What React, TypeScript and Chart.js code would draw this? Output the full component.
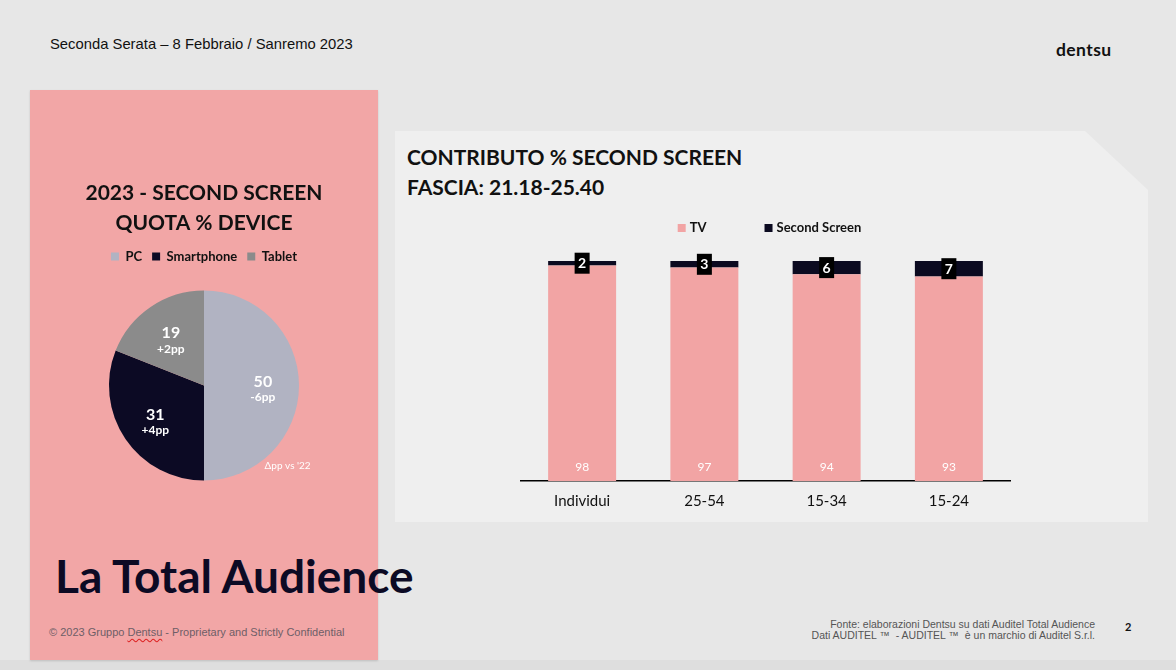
import React, { useEffect, useRef } from 'react';
import { Chart, registerables } from 'chart.js';
Chart.register(...registerables);

const pieLabels = ['PC', 'Smartphone', 'Tablet'];
const pieValues = [50, 31, 19];
const pieDeltas = ['-6pp', '+4pp', '+2pp'];
const pieColors = ['#b1b3c2', '#0c0a24', '#8b8b8b'];
const pieTitle = ['2023 - SECOND SCREEN', 'QUOTA % DEVICE'];
const pieNote = "Δpp vs '22";

const barCategories = ['Individui', '25-54', '15-34', '15-24'];
const seriesNames = ['TV', 'Second Screen'];
const tvValues = [98, 97, 94, 93];
const secondScreenValues = [2, 3, 6, 7];
const barColors = ['#f2a4a4', '#0b0a20'];

const CAL = 'Lato, "Open Sans", sans-serif';
const ARIAL = '"Liberation Sans", Arial, sans-serif';

const pieLabelPlugin = {
  id: 'pieLabelPlugin',
  afterDatasetsDraw(chart: any) {
    const ctx = chart.ctx;
    const meta = chart.getDatasetMeta(0);
    let cx = 0, cy = 0, R = 0;
    meta.data.forEach((arc: any, i: number) => {
      const p = arc.getProps(['x', 'y', 'startAngle', 'endAngle', 'outerRadius'], true);
      cx = p.x; cy = p.y; R = p.outerRadius;
      const mid = (p.startAngle + p.endAngle) / 2;
      const r = p.outerRadius * 0.62;
      const lx = p.x + Math.cos(mid) * r;
      const ly = p.y + Math.sin(mid) * r;
      ctx.save();
      ctx.fillStyle = '#ffffff';
      ctx.textAlign = 'center';
      ctx.textBaseline = 'middle';
      ctx.font = `bold 16px ${CAL}`;
      ctx.fillText(String(pieValues[i]), lx, ly - 4);
      ctx.font = `bold 12px ${CAL}`;
      ctx.fillText(pieDeltas[i], lx, ly + 12);
      ctx.restore();
    });
    ctx.save();
    ctx.fillStyle = '#ffffff';
    ctx.textAlign = 'center';
    ctx.textBaseline = 'middle';
    ctx.font = `10px ${CAL}`;
    ctx.fillText(pieNote, cx + R * 0.88, cy + R * 0.85);
    ctx.restore();
  },
};

const barLabelPlugin = {
  id: 'barLabelPlugin',
  afterDatasetsDraw(chart: any) {
    const ctx = chart.ctx;
    const tvMeta = chart.getDatasetMeta(0);
    const ssMeta = chart.getDatasetMeta(1);
    ctx.save();
    ctx.textAlign = 'center';
    ctx.textBaseline = 'middle';
    tvMeta.data.forEach((bar: any, i: number) => {
      const p = bar.getProps(['x', 'base'], true);
      ctx.fillStyle = '#ffffff';
      ctx.font = `12px ${CAL}`;
      ctx.fillText(String(tvValues[i]), p.x, p.base - 14);
    });
    ssMeta.data.forEach((bar: any, i: number) => {
      const p = bar.getProps(['x', 'y', 'base'], true);
      const cy = (p.y + p.base) / 2;
      ctx.fillStyle = '#000000';
      ctx.fillRect(p.x - 7.5, cy - 10.5, 15, 21);
      ctx.fillStyle = '#ffffff';
      ctx.font = `bold 14px ${CAL}`;
      ctx.fillText(String(secondScreenValues[i]), p.x, cy + 0.5);
    });
    ctx.restore();
  },
};

const barLegendPlugin = {
  id: 'barLegendPlugin',
  afterDraw(chart: any) {
    const ctx = chart.ctx;
    const area = chart.chartArea;
    const box = 8;
    const gapText = 4;
    const gapItems = 58;
    ctx.save();
    ctx.font = `bold 13px ${CAL}`;
    const items = chart.data.datasets.map((d: any) => ({
      text: d.label,
      color: d.backgroundColor,
      w: box + gapText + ctx.measureText(d.label).width,
    }));
    const total = items.reduce((s: number, it: any) => s + it.w, 0) + gapItems * (items.length - 1);
    let x = (area.left + area.right) / 2 + 4 - total / 2;
    const y = area.top - 33;
    ctx.textBaseline = 'middle';
    ctx.textAlign = 'left';
    items.forEach((it: any) => {
      ctx.fillStyle = it.color;
      ctx.fillRect(x, y - box / 2, box, box);
      ctx.fillStyle = '#111111';
      ctx.fillText(it.text, x + box + gapText, y);
      x += it.w + gapItems;
    });
    ctx.restore();
  },
};

function PieChart() {
  const ref = useRef<HTMLCanvasElement>(null);
  useEffect(() => {
    const chart = new Chart(ref.current as HTMLCanvasElement, {
      type: 'pie',
      data: {
        labels: pieLabels,
        datasets: [{ data: pieValues, backgroundColor: pieColors, borderWidth: 0 }],
      },
      options: {
        responsive: false,
        animation: false,
        radius: 95,
        layout: { padding: 0 },
        plugins: {
          title: {
            display: true,
            text: pieTitle,
            color: '#111111',
            font: { family: CAL, size: 21, weight: 'bold', lineHeight: 30 / 21 },
            padding: { top: 8, bottom: 2 },
          },
          legend: {
            display: true,
            position: 'top',
            labels: {
              boxWidth: 8,
              boxHeight: 8,
              padding: 10,
              color: '#111111',
              font: { family: CAL, size: 13, weight: 'bold' },
            },
          },
          tooltip: { enabled: false },
        },
      } as any,
      plugins: [pieLabelPlugin],
    });
    return () => chart.destroy();
  }, []);
  return <canvas ref={ref} width={348} height={328} />;
}

function BarChart() {
  const ref = useRef<HTMLCanvasElement>(null);
  useEffect(() => {
    const chart = new Chart(ref.current as HTMLCanvasElement, {
      type: 'bar',
      data: {
        labels: barCategories,
        datasets: [
          { label: seriesNames[0], data: tvValues, backgroundColor: barColors[0], barPercentage: 0.556, categoryPercentage: 1 },
          { label: seriesNames[1], data: secondScreenValues, backgroundColor: barColors[1], barPercentage: 0.556, categoryPercentage: 1 },
        ],
      },
      options: {
        responsive: false,
        animation: false,
        layout: { padding: { left: 21, right: 30, top: 61, bottom: 11 } },
        scales: {
          x: {
            stacked: true,
            grid: { display: false, drawTicks: false },
            border: { display: true, color: '#000000', width: 1.5 },
            ticks: { color: '#111111', padding: 11, font: { family: CAL, size: 15 } },
          },
          y: { stacked: true, display: false, min: 0, max: 100 },
        },
        plugins: { legend: { display: false }, tooltip: { enabled: false } },
      } as any,
      plugins: [barLabelPlugin, barLegendPlugin],
    });
    return () => chart.destroy();
  }, []);
  return <canvas ref={ref} width={540} height={332} />;
}

export default function App() {
  const abs = (s: React.CSSProperties): React.CSSProperties => ({ position: 'absolute', ...s });
  return (
    <div style={{ position: 'fixed', left: 0, top: 0, width: 1176, height: 670, background: '#e7e7e7', overflow: 'hidden', fontFamily: ARIAL }}>
      <div style={abs({ left: 0, top: 660, width: 1176, height: 10, background: '#dedede' })} />
      <div style={abs({ left: 50, top: 35, fontSize: 14.8, lineHeight: '18px', color: '#111', whiteSpace: 'nowrap' })}>
        Seconda Serata – 8 Febbraio / Sanremo 2023
      </div>
      <div style={abs({ left: 1056, top: 39, fontSize: 17.5, lineHeight: '22px', fontWeight: 'bold', fontFamily: CAL, color: '#111', letterSpacing: 0.4 })}>dentsu</div>
      <div style={abs({ left: 30, top: 90, width: 348, height: 570, background: '#f2a6a6', boxShadow: '0 1px 2px rgba(0,0,0,0.15)' })} />
      <div style={abs({ left: 395, top: 131, width: 753, height: 391, background: '#efefef', clipPath: 'polygon(0 0, 690px 0, 753px 59px, 753px 391px, 0 391px)' })} />
      <div style={abs({ left: 407, top: 142, fontSize: 21, lineHeight: '30px', fontWeight: 'bold', fontFamily: CAL, color: '#111', whiteSpace: 'nowrap' })}>
        CONTRIBUTO % SECOND SCREEN<br />FASCIA: 21.18-25.40
      </div>
      <div style={abs({ left: 30, top: 170 })}><PieChart /></div>
      <div style={abs({ left: 500, top: 200 })}><BarChart /></div>
      <div style={abs({ left: 55, top: 548, fontSize: 46, lineHeight: '56px', fontWeight: 'bold', fontFamily: CAL, color: '#0c0a24', whiteSpace: 'nowrap' })}>
        La Total Audience
      </div>
      <div style={abs({ left: 49, top: 625, fontSize: 11, lineHeight: '14px', color: '#6e5e66', whiteSpace: 'nowrap' })}>
        © 2023 Gruppo <span style={{ textDecoration: 'underline wavy #d22', textUnderlineOffset: 2 }}>Dentsu</span> - Proprietary and Strictly Confidential
      </div>
      <div style={abs({ left: 760, top: 619, width: 335, fontSize: 10.5, lineHeight: '11px', color: '#555', textAlign: 'right', whiteSpace: 'nowrap' })}>
        Fonte: elaborazioni Dentsu su dati Auditel Total Audience<br />Dati AUDITEL ™{'\u00a0 '}- AUDITEL ™{'\u00a0 '}è un marchio di Auditel S.r.l.
      </div>
      <div style={abs({ left: 1125, top: 620, fontSize: 11, lineHeight: '14px', fontWeight: 'bold', fontFamily: CAL, color: '#111' })}>2</div>
    </div>
  );
}
